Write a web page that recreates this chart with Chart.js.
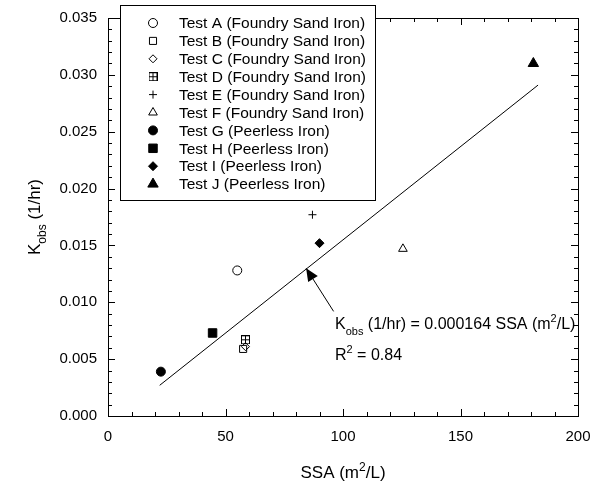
<!DOCTYPE html>
<html>
<head>
<meta charset="utf-8">
<script src="https://cdn.jsdelivr.net/npm/chart.js@4/dist/chart.umd.min.js"></script>
<style>
  body { margin: 0; background: #fff; }
  #wrap { width: 593px; height: 488px; position: relative; }
</style>
</head>
<body>
<div id="wrap"><canvas id="kobsChart"></canvas></div>
<script>
// Series (one point per test)
const testLabels = [
    'Test A (Foundry Sand Iron)',
    'Test B (Foundry Sand Iron)',
    'Test C (Foundry Sand Iron)',
    'Test D (Foundry Sand Iron)',
    'Test E (Foundry Sand Iron)',
    'Test F (Foundry Sand Iron)',
    'Test G (Peerless Iron)',
    'Test H (Peerless Iron)',
    'Test I (Peerless Iron)',
    'Test J (Peerless Iron)'
];
const ssaValues  = [55, 57.5, 58.5, 58.5, 87, 125.5, 22.5, 44.5, 90, 181];
const kobsValues = [0.0128, 0.0059, 0.0061, 0.0067, 0.0177, 0.0147, 0.0039, 0.0073, 0.0152, 0.0310];

// Regression line end points
const fitSsa  = [22, 183];
const fitKobs = [0.0027, 0.0291];

// Tick labels
const xTicks = [0, 50, 100, 150, 200];
const yTicks = [0, 0.005, 0.010, 0.015, 0.020, 0.025, 0.030, 0.035];

const FONT = '"Liberation Sans", Arial, Helvetica, sans-serif';

// square with a plus inside (Test D)
function boxPlus() {
    const c = document.createElement('canvas');
    c.width = 9; c.height = 9;
    const g = c.getContext('2d');
    g.strokeStyle = '#000';
    g.lineWidth = 1;
    g.strokeRect(0.5, 0.5, 8, 8);
    g.beginPath();
    g.moveTo(0.5, 4.5); g.lineTo(8.5, 4.5);
    g.moveTo(4.5, 0.5); g.lineTo(4.5, 8.5);
    g.stroke();
    return c;
}

const markers = [
    { style: 'circle',   r: 4.5, fill: false },
    { style: 'rect',     r: 5,   fill: false },
    { style: 'rectRot',  r: 4,   fill: false },
    { style: boxPlus(),  r: 5,   fill: false },
    { style: 'cross',    r: 4,   fill: false },
    { style: 'triangle', r: 5,   fill: false },
    { style: 'circle',   r: 4.5, fill: true },
    { style: 'rect',     r: 6,   fill: true },
    { style: 'rectRot',  r: 4.5, fill: true },
    { style: 'triangle', r: 6,   fill: true }
];

const datasets = testLabels.map(function(label, i) {
    return {
        type: 'scatter',
        label: label,
        data: [{ x: ssaValues[i], y: kobsValues[i] }],
        pointStyle: markers[i].style,
        pointRadius: markers[i].r,
        pointHoverRadius: markers[i].r,
        borderColor: '#000',
        borderWidth: 1,
        backgroundColor: markers[i].fill ? '#000' : 'rgba(255,255,255,0)'
    };
});

datasets.push({
    type: 'line',
    label: 'fit',
    data: fitSsa.map(function(x, i) { return { x: x, y: fitKobs[i] }; }),
    borderColor: '#000',
    borderWidth: 1,
    pointRadius: 0,
    fill: false
});

// text with sub/superscripts: parts = [[text, kind]]
function drawRich(ctx, parts, x, y, size, align) {
    const small = Math.round(size * 0.68);
    let total = 0;
    parts.forEach(function(p) {
        ctx.font = (p[1] ? small : size) + 'px ' + FONT;
        total += ctx.measureText(p[0]).width;
    });
    let cx = align === 'center' ? x - total / 2 : x;
    ctx.textAlign = 'left';
    ctx.textBaseline = 'alphabetic';
    parts.forEach(function(p) {
        ctx.font = (p[1] ? small : size) + 'px ' + FONT;
        let dy = 0;
        if (p[1] === 'sub') dy = size * 0.35;
        if (p[1] === 'sup') dy = -size * 0.42;
        ctx.fillText(p[0], cx, y + dy);
        cx += ctx.measureText(p[0]).width;
    });
}

const framePlugin = {
    id: 'frame',
    beforeDatasetsDraw(chart) {
        const ctx = chart.ctx;
        const a = chart.chartArea;
        const xs = chart.scales.x, ys = chart.scales.y;
        ctx.save();
        ctx.strokeStyle = '#000';
        ctx.lineWidth = 1;
        ctx.strokeRect(Math.round(a.left) + 0.5, Math.round(a.top) + 0.5,
            Math.round(a.right - a.left), Math.round(a.bottom - a.top));
        ctx.beginPath();
        for (let v = 0; v <= 200; v += 10) {
            const px = Math.round(xs.getPixelForValue(v)) + 0.5;
            const len = v % 50 === 0 ? 7 : 4;
            ctx.moveTo(px, a.bottom); ctx.lineTo(px, a.bottom - len);
            ctx.moveTo(px, a.top); ctx.lineTo(px, a.top + len);
        }
        for (let k = 0; k <= 35; k++) {
            const py = Math.round(ys.getPixelForValue(k / 1000)) + 0.5;
            const len = k % 5 === 0 ? 7 : 4;
            ctx.moveTo(a.left, py); ctx.lineTo(a.left + len, py);
            ctx.moveTo(a.right, py); ctx.lineTo(a.right - len, py);
        }
        ctx.stroke();
        ctx.restore();
    },
    afterDraw(chart) {
        const ctx = chart.ctx;
        const a = chart.chartArea;
        const xs = chart.scales.x, ys = chart.scales.y;
        ctx.save();
        ctx.fillStyle = '#000';

        // axis titles
        drawRich(ctx, [['SSA (m'], ['2', 'sup'], ['/L)']], (a.left + a.right) / 2, 478, 17, 'center');
        ctx.save();
        ctx.translate(40, (a.top + a.bottom) / 2);
        ctx.rotate(-Math.PI / 2);
        drawRich(ctx, [['K'], ['obs', 'sub'], [' (1/hr)']], 0, 0, 17, 'center');
        ctx.restore();

        // legend
        const lx = 120, ly = 5, lw = 255, lh = 195;
        ctx.fillStyle = '#fff';
        ctx.fillRect(lx, ly, lw, lh);
        ctx.strokeStyle = '#000';
        ctx.lineWidth = 1;
        ctx.strokeRect(lx + 0.5, ly + 0.5, lw, lh);
        chart.data.datasets.forEach(function(ds, i) {
            if (ds.label === 'fit') return;
            const y = 23 + i * 17.9;
            ctx.fillStyle = ds.backgroundColor;
            ctx.strokeStyle = '#000';
            ctx.lineWidth = 1;
            Chart.helpers.drawPoint(ctx, {
                pointStyle: ds.pointStyle,
                radius: ds.pointRadius,
                rotation: 0,
                borderWidth: 1
            }, 153, y);
            ctx.fillStyle = '#000';
            ctx.font = '15.5px ' + FONT;
            ctx.textAlign = 'left';
            ctx.textBaseline = 'middle';
            ctx.fillText(ds.label, 179, y + 1);
        });

        // arrow to the fit line
        const tipX = xs.getPixelForValue(84.3), tipY = ys.getPixelForValue(0.0130);
        const tailX = xs.getPixelForValue(96), tailY = ys.getPixelForValue(0.0092);
        const ang = Math.atan2(tipY - tailY, tipX - tailX);
        ctx.strokeStyle = '#000';
        ctx.lineWidth = 1;
        ctx.beginPath();
        ctx.moveTo(tailX, tailY);
        ctx.lineTo(tipX, tipY);
        ctx.stroke();
        ctx.beginPath();
        ctx.moveTo(tipX, tipY);
        ctx.lineTo(tipX - 14 * Math.cos(ang - 0.42), tipY - 14 * Math.sin(ang - 0.42));
        ctx.lineTo(tipX - 14 * Math.cos(ang + 0.42), tipY - 14 * Math.sin(ang + 0.42));
        ctx.closePath();
        ctx.fillStyle = '#000';
        ctx.fill();

        drawRich(ctx, [['K'], ['obs', 'sub'], [' (1/hr) = 0.000164 SSA (m'], ['2', 'sup'], ['/L)']], 335, 329, 16, 'left');
        drawRich(ctx, [['R'], ['2', 'sup'], [' = 0.84']], 335, 360, 16, 'left');
        ctx.restore();
    }
};

new Chart(document.getElementById('kobsChart'), {
    data: { datasets: datasets },
    options: {
        responsive: true,
        maintainAspectRatio: false,
        animation: false,
        layout: { padding: { top: 18, right: 15, left: 0, bottom: 0 } },
        plugins: {
            legend: { display: false },
            tooltip: { enabled: false }
        },
        scales: {
            x: {
                type: 'linear',
                min: 0,
                max: 200,
                afterBuildTicks: function(scale) {
                    scale.ticks = xTicks.map(function(v) { return { value: v }; });
                },
                afterFit: function(scale) {
                    scale.height = 72;
                    scale.paddingLeft = 0;
                    scale.paddingRight = 0;
                },
                grid: { display: false, drawTicks: false },
                border: { display: false },
                ticks: {
                    padding: 12,
                    color: '#000',
                    font: { family: FONT, size: 15 },
                    maxRotation: 0
                }
            },
            y: {
                type: 'linear',
                min: 0,
                max: 0.035,
                afterBuildTicks: function(scale) {
                    scale.ticks = yTicks.map(function(v) { return { value: v }; });
                },
                afterFit: function(scale) {
                    scale.width = 108;
                    scale.paddingTop = 0;
                    scale.paddingBottom = 0;
                },
                grid: { display: false, drawTicks: false },
                border: { display: false },
                ticks: {
                    padding: 11,
                    color: '#000',
                    font: { family: FONT, size: 15 },
                    callback: function(v) { return Number(v).toFixed(3); }
                }
            }
        }
    },
    plugins: [framePlugin]
});
</script>
</body>
</html>
